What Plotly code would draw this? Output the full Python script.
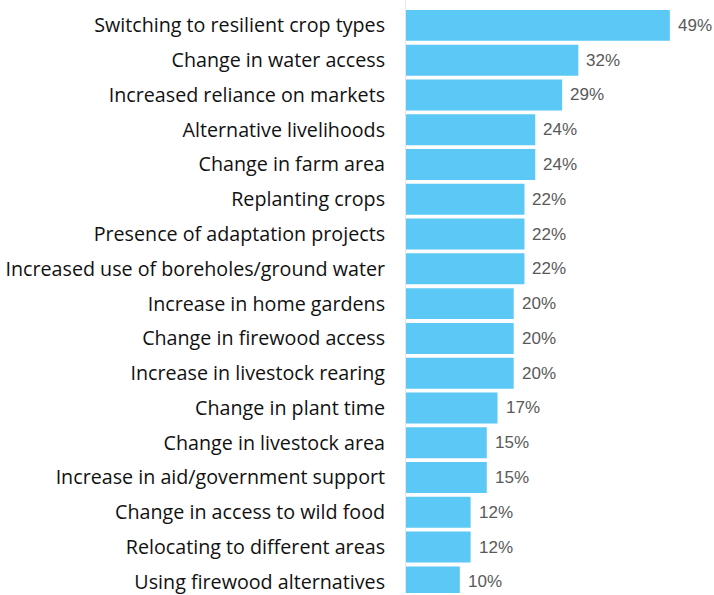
import plotly.graph_objects as go

categories = [
    "Switching to resilient crop types",
    "Change in water access",
    "Increased reliance on markets",
    "Alternative livelihoods",
    "Change in farm area",
    "Replanting crops",
    "Presence of adaptation projects",
    "Increased use of boreholes/ground water",
    "Increase in home gardens",
    "Change in firewood access",
    "Increase in livestock rearing",
    "Change in plant time",
    "Change in livestock area",
    "Increase in aid/government support",
    "Change in access to wild food",
    "Relocating to different areas",
    "Using firewood alternatives",
]
values = [49, 32, 29, 24, 24, 22, 22, 22, 20, 20, 20, 17, 15, 15, 12, 12, 10]
value_labels = [f"{v}%" for v in values]

fig = go.Figure(
    go.Bar(
        x=values,
        y=categories,
        orientation="h",
        marker=dict(color="#5BC8F5", line=dict(width=0)),
        hoverinfo="skip",
    )
)

for c, v, t in zip(categories, values, value_labels):
    fig.add_annotation(
        x=v, y=c, text=t, showarrow=False, xanchor="left", yanchor="middle",
        xshift=6, font=dict(family="Liberation Sans, Arial, sans-serif", size=17, color="#595959"),
    )

n = len(categories)
fig.update_layout(
    width=714, height=595,
    margin=dict(l=406, r=0, t=0, b=0),
    paper_bgcolor="white", plot_bgcolor="white",
    bargap=0.11,
    showlegend=False,
    font=dict(family="Open Sans, sans-serif", size=19.7, color="#111111"),
)
fig.update_xaxes(range=[0, 57.2], visible=False, showgrid=False, zeroline=False)
fig.update_yaxes(
    type="category",
    categoryorder="array", categoryarray=categories,
    range=[n - 1 + 0.32, -0.73],
    showgrid=False, zeroline=False,
    showline=True, linecolor="#E6E6E6", linewidth=1,
    ticks="", ticklabelstandoff=16,
    tickfont=dict(family="Open Sans, sans-serif", size=19.7, color="#111111"),
)

fig.write_html("out.html")
